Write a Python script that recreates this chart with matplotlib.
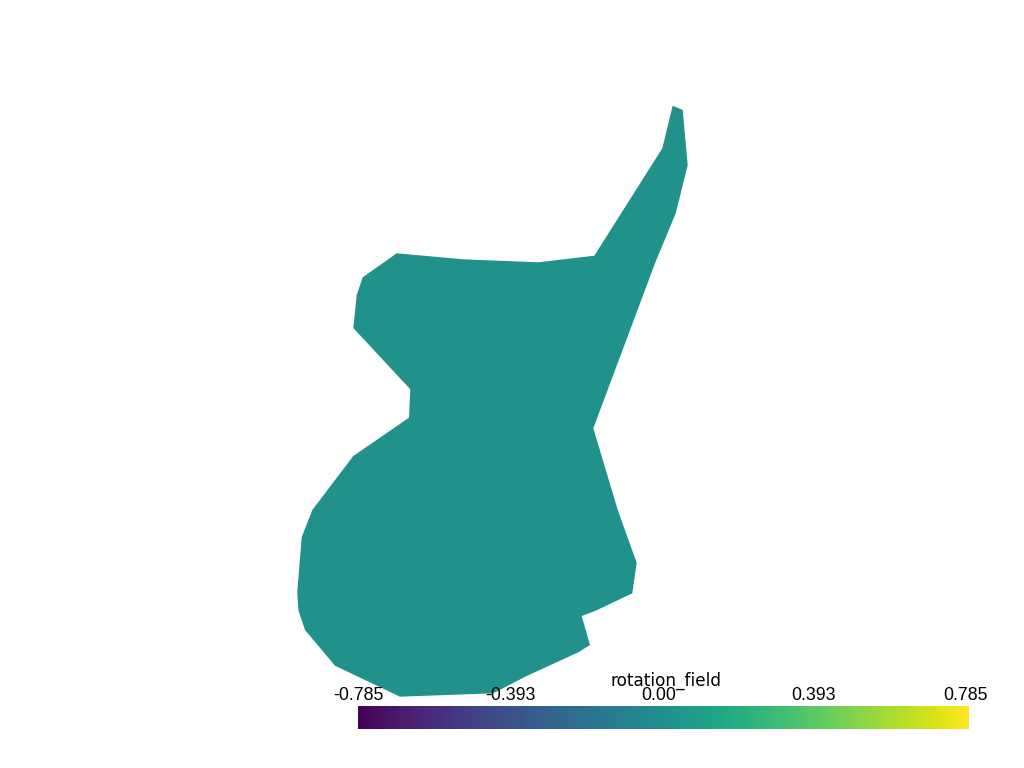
import matplotlib
matplotlib.use("Agg")
import matplotlib.pyplot as plt
from matplotlib.collections import PolyCollection
from matplotlib.colors import Normalize
from matplotlib.transforms import ScaledTranslation
import numpy as np

# Outline of the mesh (screen-space units, y downwards)
outline_x = [672.7, 682.7, 687.7, 675.7, 655.0, 593.3, 618.3, 636.7, 632.3, 595.0,
             581.7, 590.0, 578.3, 526.7, 493.3, 400.0, 335.0, 305.0, 298.3, 297.3,
             301.7, 312.3, 353.3, 409.0, 410.3, 353.3, 356.7, 362.7, 396.7, 463.3,
             538.3, 594.3, 662.3]
outline_y = [105.7, 110.0, 165.3, 213.3, 263.3, 428.3, 511.7, 562.7, 593.3, 611.0,
             616.0, 645.0, 652.3, 676.0, 693.3, 696.7, 665.7, 630.0, 610.0, 591.7,
             537.3, 510.0, 456.0, 417.7, 389.3, 328.0, 295.0, 277.3, 253.3, 259.3,
             262.3, 255.7, 148.3]
# scalar value of the field on the mesh
rotation_values = [0.0]

clim = [-0.785, 0.785]
tick_values = [-0.785, -0.393, 0.0, 0.393, 0.785]
tick_labels = ["-0.785", "-0.393", "0.00", "0.393", "0.785"]
bar_title = "rotation_field"

fig = plt.figure(figsize=(10.24, 7.68), dpi=100)
ax = fig.add_axes([0, 0, 1, 1])
ax.set_xlim(0, 1024)
ax.set_ylim(768, 0)
ax.axis("off")

verts = [np.column_stack([outline_x, outline_y])]
coll = PolyCollection(verts, cmap="viridis", norm=Normalize(*clim),
                      edgecolors="none", antialiased=True)
coll.set_array(np.array(rotation_values))
ax.add_collection(coll)

cax = fig.add_axes([358 / 1024, (768 - 728.5) / 768, 611 / 1024, 22.8 / 768])
cb = fig.colorbar(coll, cax=cax, orientation="horizontal", ticks=tick_values)
cb.outline.set_visible(False)
cax.xaxis.set_ticks_position("top")
cax.set_xticklabels(tick_labels)
cax.tick_params(axis="x", length=0, pad=1.5, labelsize=12.8)
# small horizontal nudges (in pixels) like the VTK scalar bar label placement
nudges = [0, 0, -5, -3, -4]
for lbl, dx in zip(cax.get_xticklabels(), nudges):
    lbl.set_fontfamily("Liberation Sans")
    lbl.set_color("black")
    lbl.set_transform(lbl.get_transform() +
                      ScaledTranslation(dx / 100, 0, fig.dpi_scale_trans))

fig.text(665.5 / 1024, (768 - 685.5) / 768, bar_title, ha="center", va="baseline",
         fontsize=12.2, family="DejaVu Sans", color="black")

fig.savefig("out.png", dpi=100, facecolor="white")
